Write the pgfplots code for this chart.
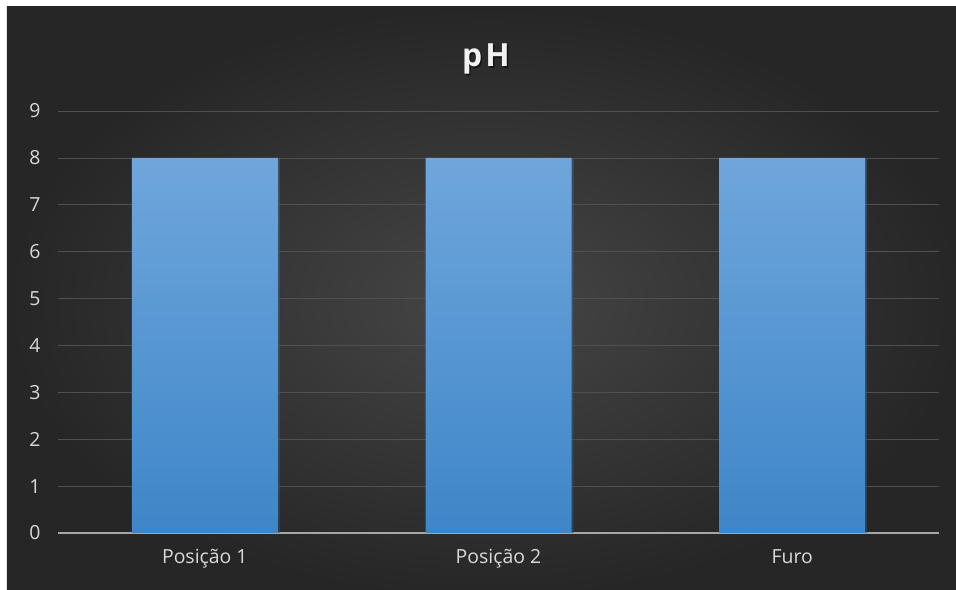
\documentclass[border=0pt]{standalone}
\usepackage{fontspec}
\setmainfont{Open Sans}
\usepackage{pgfplots}
\pgfplotsset{compat=1.18}
\usetikzlibrary{shadows}

\definecolor{bgin}{HTML}{464646}
\definecolor{bgout}{HTML}{262626}
\definecolor{gridc}{HTML}{505050}
\definecolor{axisc}{HTML}{A6A6A6}
\definecolor{labelc}{HTML}{D9D9D9}
\definecolor{bartop}{HTML}{6FA6DC}
\definecolor{barbot}{HTML}{3E86C8}

\begin{document}
\begin{tikzpicture}
\useasboundingbox (-58bp,-57bp) rectangle (898bp,533bp);
% chart area: white frame and dark radial background (runs past the page edge)
\fill[white] (-58bp,-57bp) rectangle (898bp,533bp);
\begin{scope}
  \clip (-51bp,-57bp) rectangle (898bp,526bp);
  \shade[inner color=bgin, outer color=bgout] (-51bp,-66bp) rectangle (907bp,526bp);
\end{scope}

\begin{axis}[
  at={(0,0)}, anchor=south west, scale only axis,
  width=881bp, height=422bp,
  xmin=-0.5, xmax=2.5, ymin=0, ymax=9,
  xtick={0,1,2}, xticklabels={Posição 1, Posição 2, Furo},
  ytick={0,...,9},
  ymajorgrids, grid style={gridc, line width=0.75bp},
  axis x line=bottom, axis y line=left,
  x axis line style={axisc, line width=1.5bp, -},
  y axis line style={draw=none},
  major tick length=0,
  tick label style={labelc, font=\fontsize{19.5}{22}\selectfont},
  /pgf/number format/assume math mode=true,
  yticklabel style={xshift=-14bp},
  xticklabel style={yshift=-13bp},
  ybar, bar width=146bp,
]
\addplot[draw=none, top color=bartop, bottom color=barbot,
  drop shadow={shadow xshift=2bp, shadow yshift=-1bp, opacity=0.35, fill=black}]
  coordinates {(0,8) (1,8) (2,8)};
\end{axis}

% title with a soft shadow
\node[anchor=base, font=\bfseries\fontsize{32}{36}\selectfont, black, opacity=0.5]
  at (429.5bp,464.5bp) {p\kern3bp H};
\node[anchor=base, font=\bfseries\fontsize{32}{36}\selectfont, color=white!95!black]
  at (428bp,466bp) {p\kern3bp H};
\end{tikzpicture}
\end{document}
